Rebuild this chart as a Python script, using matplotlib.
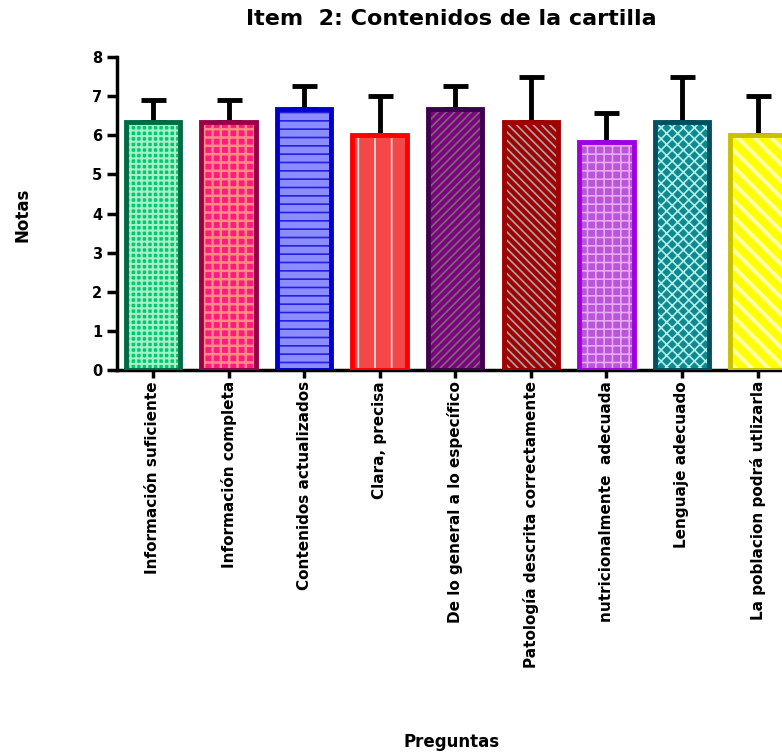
import matplotlib
matplotlib.use('Agg')
import matplotlib.pyplot as plt
import numpy as np

# data
preguntas = ['Información suficiente', 'Información completa', 'Contenidos actualizados',
             'Clara, precisa', 'De lo general a lo específico', 'Patología descrita correctamente',
             'nutricionalmente  adecuada', 'Lenguaje adecuado', 'La poblacion podrá utlizarla']
notas = [6.33, 6.33, 6.67, 6.0, 6.67, 6.33, 5.83, 6.33, 6.0]
error_sup = [0.58, 0.58, 0.58, 1.0, 0.58, 1.17, 0.75, 1.17, 1.0]

edge_colors = ['#006B45', '#99004A', '#0000CC', '#FF0000', '#40004F', '#A00000', '#A000E0', '#005060', '#C8C000']
face_colors = ['#00C870', '#FF1A80', '#8C8CFF', '#F44848', '#800080', '#A00000', '#B855D8', '#108890', '#FFFF00']
hatch_colors = ['#A8F0C8', '#FF8C80', '#2020DD', '#DDDDDD', '#707070', '#A8A8A8', '#E8A8F4', '#B0F0E8', '#FFFFA8']
hatches = ['+++', '++', '--', '|', '////', '\\\\\\\\', '++', 'xxx', '\\\\']
hatch_lw = [1.5, 1.8, 1.2, 1.2, 1.2, 1.2, 1.2, 1.2, 3.0]

plt.rcParams['font.family'] = ['DejaVu Sans']
plt.rcParams['hatch.linewidth'] = 1.2

fig = plt.figure(figsize=(7.82, 7.52), dpi=100)
ax = fig.add_axes([0.1496, 0.508, 0.850, 0.416])

x = np.arange(len(preguntas))
width = 0.72

for i in range(len(preguntas)):
    # fill + hatch first, then the thick outline on top
    bars = ax.bar(x[i], notas[i], width=width, color=face_colors[i], edgecolor=hatch_colors[i],
                  hatch=hatches[i], linewidth=0, zorder=2)
    if hasattr(bars[0], 'set_hatch_linewidth'):
        bars[0].set_hatch_linewidth(hatch_lw[i])
    ax.bar(x[i], notas[i], width=width, fill=False, edgecolor=edge_colors[i], linewidth=3.5, zorder=3)

ax.errorbar(x, notas, yerr=[np.zeros(len(notas)), error_sup], fmt='none', ecolor='black',
            elinewidth=3.5, capsize=9, capthick=3.5, zorder=1)

ax.set_xlim(-0.476, 8.32)
ax.set_ylim(0, 8)
ax.set_yticks(range(0, 9))
ax.set_xticks(x)
ax.set_xticklabels(preguntas, rotation=90, fontsize=11, fontweight='bold', va='top', ha='center')
ax.tick_params(axis='y', labelsize=10.5, width=2.5, length=7, direction='out')
ax.tick_params(axis='x', width=2.5, length=6, direction='out', pad=2)
for lbl in ax.get_yticklabels():
    lbl.set_fontweight('bold')

ax.spines['top'].set_visible(False)
ax.spines['right'].set_visible(False)
ax.spines['left'].set_linewidth(2.5)
ax.spines['bottom'].set_linewidth(2.5)

fig.text(0.577, 0.975, 'Item  2: Contenidos de la cartilla', ha='center', va='center',
         fontsize=16, fontweight='bold')
fig.text(0.029, 0.714, 'Notas', rotation=90, ha='center', va='center', fontsize=12, fontweight='bold')
fig.text(0.578, 0.013, 'Preguntas', ha='center', va='center', fontsize=12, fontweight='bold')

fig.savefig('out.png', dpi=100)
